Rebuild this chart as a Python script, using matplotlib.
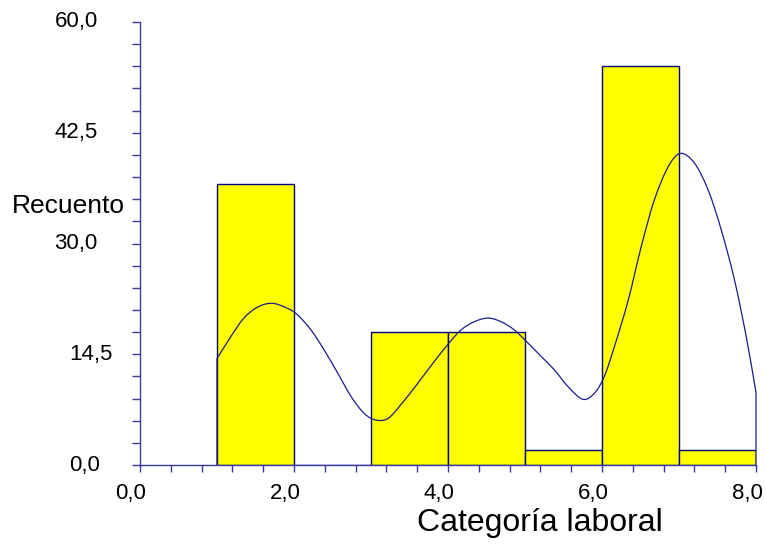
import matplotlib
matplotlib.use("Agg")
import matplotlib.pyplot as plt
import matplotlib.transforms as mtransforms
from matplotlib.path import Path
from matplotlib.patches import PathPatch

plt.rcParams['font.family'] = ['Liberation Sans', 'DejaVu Sans']

# Histogram of job categories
bin_left = [1, 2, 3, 4, 5, 6, 7]
counts = [38, 0, 18, 18, 2, 54, 2]

# Smoothed density curve overlay (knots of the curve)
curve_x = [1.00, 1.18, 1.35, 1.53, 1.72, 1.92, 2.05, 2.22, 2.39, 2.57,
           2.74, 2.91, 3.06, 3.22, 3.39, 3.61, 3.82, 4.02, 4.17, 4.34, 4.52,
           4.69, 4.86, 5.04, 5.21, 5.38, 5.56, 5.75, 5.90, 6.03, 6.16, 6.34,
           6.51, 6.68, 6.86, 7.02, 7.20, 7.38, 7.55, 7.72, 7.88, 8.00]
curve_y = [14.4, 17.4, 19.9, 21.4, 21.9, 21.2, 20.3, 18.3, 15.6, 12.4,
           9.3, 7.0, 6.1, 6.3, 8.2, 11.1, 14.0, 16.6, 18.3, 19.4, 19.9,
           19.4, 18.3, 16.5, 14.7, 12.9, 10.6, 8.9, 9.7, 12.0, 16.0, 22.3,
           29.6, 35.9, 40.4, 42.2, 40.9, 37.2, 31.8, 25.1, 17.0, 9.8]

x_ticks_major = [0, 2, 4, 6, 8]
x_tick_labels = ["0,0", "2,0", "4,0", "6,0", "8,0"]
y_ticks_major = [0, 15, 30, 45, 60]
y_tick_labels = ["0,0", "14,5", "30,0", "42,5", "60,0"]

axis_color = "#3a3aa0"
edge_color = "#000080"
curve_color = "#1c1c8c"


def smooth_path(xs, ys):
    """Cubic Bezier path passing through every knot (Catmull-Rom style),
    closed down to the baseline at both ends."""
    verts = [(xs[0], 0.0), (xs[0], ys[0])]
    codes = [Path.MOVETO, Path.LINETO]
    n = len(xs)
    for i in range(n - 1):
        x0, y0 = (xs[i - 1], ys[i - 1]) if i > 0 else (xs[i], ys[i])
        x1, y1 = xs[i], ys[i]
        x2, y2 = xs[i + 1], ys[i + 1]
        x3, y3 = (xs[i + 2], ys[i + 2]) if i + 2 < n else (x2, y2)
        c1 = (x1 + (x2 - x0) / 6.0, y1 + (y2 - y0) / 6.0)
        c2 = (x2 - (x3 - x1) / 6.0, y2 - (y3 - y1) / 6.0)
        verts += [c1, c2, (x2, y2)]
        codes += [Path.CURVE4] * 3
    verts.append((xs[-1], 0.0))
    codes.append(Path.LINETO)
    return Path(verts, codes)


fig = plt.figure(figsize=(7.66, 5.45), dpi=100)
ax = fig.add_axes([140 / 766, 1 - 465 / 545, 616 / 766, 443 / 545])

ax.bar(bin_left, counts, width=1.0, align='edge', color="#ffff00",
       edgecolor=edge_color, linewidth=1.0, zorder=2)
ax.add_patch(PathPatch(smooth_path(curve_x, curve_y), facecolor='none',
                       edgecolor=curve_color, linewidth=0.9, zorder=3,
                       clip_on=False))

ax.set_xlim(0, 8)
ax.set_ylim(0, 60)

for s in ("top", "right"):
    ax.spines[s].set_visible(False)
for s in ("left", "bottom"):
    ax.spines[s].set_color(axis_color)
    ax.spines[s].set_linewidth(1.0)

ax.set_xticks([i * 0.4 for i in range(21)])
ax.set_xticklabels([])
ax.set_yticks([i * 3 for i in range(21)])
ax.set_yticklabels([])
ax.tick_params(axis='x', direction='out', length=5.2, width=1.0,
               color=axis_color)
ax.tick_params(axis='y', direction='out', length=5.8, width=1.0,
               color=axis_color)

# Value labels on the y axis, each at its own horizontal position
y_label_right_px = [100, 113, 97, 98, 98]
for v, lab, rpx in zip(y_ticks_major, y_tick_labels, y_label_right_px):
    trans = mtransforms.blended_transform_factory(fig.transFigure, ax.transData)
    ax.text(rpx / 766, v, lab, transform=trans, ha='right', va='center',
            fontsize=16, color="black", clip_on=False)

# Value labels on the x axis, shifted slightly left of their ticks
shift = mtransforms.ScaledTranslation(-9 / 100, 0, fig.dpi_scale_trans)
for v, lab in zip(x_ticks_major, x_tick_labels):
    trans = mtransforms.blended_transform_factory(ax.transData, fig.transFigure)
    ax.text(v, 1 - 494 / 545, lab, transform=trans + shift, ha='center',
            va='center', fontsize=16, color="black", clip_on=False)

fig.text(12 / 766, 1 - 206 / 545, "Recuento", ha='left', va='center',
         fontsize=19, color="black")
fig.text(540 / 766, 1 - 523 / 545, "Categoría laboral", ha='center',
         va='center', fontsize=23, color="black")

fig.savefig("out.png", dpi=100)
